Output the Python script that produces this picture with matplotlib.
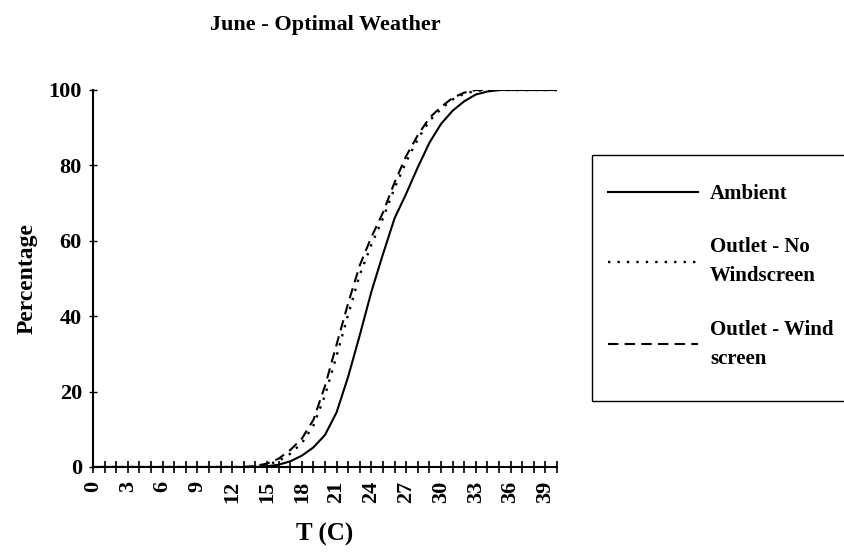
import matplotlib
matplotlib.use("Agg")
import matplotlib.pyplot as plt
from matplotlib.patches import Rectangle
from matplotlib.ticker import MultipleLocator

# Temperature bins (C)
temps = list(range(0, 41))

# Cumulative percentage per series
ambient = [0] * 15 + [0.2, 0.6, 1.5, 3, 5.2, 8.5, 14.5, 24, 35, 46.5, 56.5, 66, 72.5, 79.5, 86,
                      91, 94.5, 97, 98.8, 99.6, 100, 100, 100, 100, 100, 100]
no_windscreen = [0] * 14 + [0.1, 0.6, 1.6, 3.5, 6.3, 11, 19, 29.5, 40.5, 51, 59, 66, 74, 81, 87,
                            91.8, 95, 97.5, 99, 99.8, 100, 100, 100, 100, 100, 100, 100]
windscreen = [0] * 14 + [0.3, 0.9, 2.2, 4.5, 7.5, 12.5, 21.5, 32.5, 43.5, 53.5, 61, 67.5, 75.5,
                         82.5, 88, 92.6, 95.5, 97.9, 99.3, 100, 100, 100, 100, 100, 100, 100, 100]
labels = ["Ambient", "Outlet - No\nWindscreen", "Outlet - Wind\nscreen"]

plt.rcParams["font.family"] = ["Liberation Serif", "DejaVu Serif"]
plt.rcParams["font.weight"] = "bold"

W, H = 845, 552
fig = plt.figure(figsize=(W / 100, H / 100), dpi=100)
ax = fig.add_axes([93 / W, 1 - 467 / H, (557 - 93) / W, (467 - 90) / H])

ax.plot(temps, ambient, color="black", lw=1.5, ls="-", label=labels[0])
ax.plot(temps, no_windscreen, color="black", lw=1.7, ls=(0, (1, 3)), label=labels[1])
ax.plot(temps, windscreen, color="black", lw=1.5, ls=(0, (5, 3)), label=labels[2])

ax.set_xlim(0, 40)
ax.set_ylim(0, 100)
ax.xaxis.set_major_locator(MultipleLocator(3))
ax.xaxis.set_minor_locator(MultipleLocator(1))
ax.yaxis.set_major_locator(MultipleLocator(20))
ax.tick_params(axis="x", which="both", direction="inout", length=8, width=1.2, labelsize=16,
               labelrotation=90, pad=6)
ax.tick_params(axis="y", which="major", direction="inout", length=6, width=1.0, labelsize=16, pad=5)
for lbl in ax.get_xticklabels() + ax.get_yticklabels():
    lbl.set_fontweight("bold")

for side in ("top", "right"):
    ax.spines[side].set_visible(False)
for side in ("left", "bottom"):
    ax.spines[side].set_linewidth(1.5)

ax.set_xlabel("T (C)", fontsize=18, fontweight="bold", labelpad=14)
ax.set_ylabel("Percentage", fontsize=17, fontweight="bold", labelpad=8)

fig.text(325 / W, 1 - 25 / H, "June - Optimal Weather", ha="center", va="center",
         fontsize=16, fontweight="bold")

# legend box (frame drawn separately so it can run off the right edge like the original)
fig.add_artist(Rectangle((592 / W, 1 - 401 / H), (852 - 592) / W, (401 - 155) / H,
                         transform=fig.transFigure, fill=False, edgecolor="black", lw=1.0))
leg = fig.legend(loc="upper left", bbox_to_anchor=(608 / W, 1 - 184 / H), borderaxespad=0,
                 frameon=False, fontsize=15, handlelength=4.3, handletextpad=0.6,
                 borderpad=0, labelspacing=1.6)
for t in leg.get_texts():
    t.set_fontweight("bold")
    t.set_linespacing(1.6)

fig.savefig("out.png", dpi=100)
